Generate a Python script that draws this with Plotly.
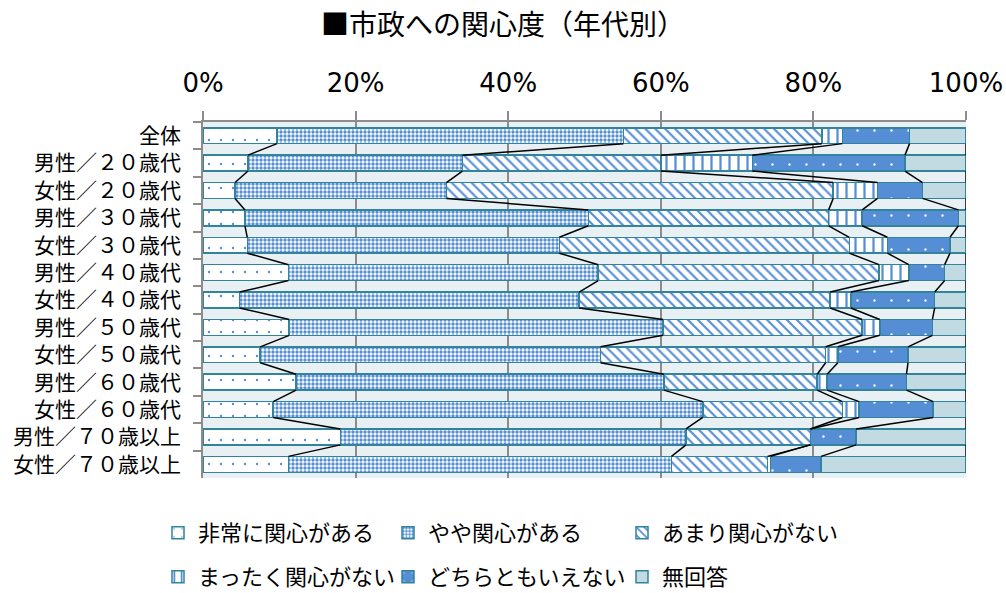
import numpy as np
import plotly.graph_objects as go

categories = ["全体", "男性／２０歳代", "女性／２０歳代", "男性／３０歳代", "女性／３０歳代",
              "男性／４０歳代", "女性／４０歳代", "男性／５０歳代", "女性／５０歳代",
              "男性／６０歳代", "女性／６０歳代", "男性／７０歳以上", "女性／７０歳以上"]

very_interested = [9.7, 5.9, 4.2, 5.5, 5.8, 11.2, 4.8, 11.3, 7.5, 12.2, 9.2, 18.0, 11.2]
somewhat_interested = [45.4, 28.1, 27.7, 45.0, 40.9, 40.6, 44.5, 49.0, 44.6, 48.2, 56.3, 45.3, 50.2]
not_very_interested = [26.0, 26.0, 50.7, 31.5, 38.0, 36.8, 32.9, 26.1, 29.5, 20.1, 18.3, 16.3, 12.6]
not_interested = [2.7, 12.0, 5.8, 4.4, 5.0, 3.9, 2.7, 2.3, 1.6, 1.3, 2.2, 0.0, 0.4]
neither = [8.8, 20.0, 5.9, 12.6, 8.2, 4.7, 11.0, 6.9, 9.2, 10.4, 9.7, 6.0, 6.6]
no_answer = [7.4, 8.0, 5.7, 1.0, 2.1, 2.8, 4.1, 4.4, 7.6, 7.8, 4.3, 14.4, 19.0]

series_names = ["非常に関心がある", "やや関心がある", "あまり関心がない",
                "まったく関心がない", "どちらともいえない", "無回答"]
series_values = [very_interested, somewhat_interested, not_very_interested,
                 not_interested, neither, no_answer]
tick_values = [0, 20, 40, 60, 80, 100]
tick_labels = ["0%", "20%", "40%", "60%", "80%", "100%"]

BLUE = "#558ED5"
OUTLINE = "#31849B"
JP = "Noto Sans CJK JP"

patterns = [
    dict(shape=".", fgcolor=BLUE, bgcolor="white", size=12, solidity=0.03, fgopacity=1),
    dict(shape=".", fgcolor=BLUE, bgcolor="white", size=4, solidity=0.55, fgopacity=1),
    dict(shape="\\", fgcolor=BLUE, bgcolor="white", size=7, solidity=0.3, fgopacity=1),
    dict(shape="|", fgcolor=BLUE, bgcolor="white", size=9, solidity=0.25, fgopacity=1),
    dict(shape=".", fgcolor="white", bgcolor=BLUE, size=17, solidity=0.015, fgopacity=1),
    dict(shape=""),
]
base_colors = ["white", "white", "white", "white", BLUE, "#C2DBE3"]

# one legend box per entry, laid out in a 3 x 2 grid like the original
legend_ids = ["legend", "legend2", "legend3", "legend4", "legend5", "legend6"]
legend_cols = [158, 388, 622, 158, 388, 622]
legend_rows = [533, 533, 533, 577, 577, 577]

BARGAP = 0.42
fig = go.Figure()
for name, vals, pat, col, lg in zip(series_names, series_values, patterns, base_colors, legend_ids):
    fig.add_trace(go.Bar(
        y=categories, x=vals, orientation="h", name=name,
        marker=dict(color=col, pattern=pat, line=dict(color=OUTLINE, width=1.5)),
        legend=lg,
    ))

# series lines connecting the segment ends of consecutive bars
cum = np.cumsum(np.array(series_values, dtype=float), axis=0)
half = (1 - BARGAP) / 2
n = len(categories)
for k in range(cum.shape[0]):
    xs, ys = [], []
    for i in range(n - 1):
        xs += [cum[k, i], cum[k, i + 1], None]
        ys += [i + half, i + 1 - half, None]
    fig.add_trace(go.Scatter(x=xs, y=ys, mode="lines", yaxis="y2",
                             line=dict(color="black", width=1.5),
                             showlegend=False, hoverinfo="skip"))

legend_layout = {}
for lg, lx, ly in zip(legend_ids, legend_cols, legend_rows):
    legend_layout[lg] = dict(orientation="h", xref="container", xanchor="left",
                             yref="container", yanchor="middle",
                             x=lx / 1006, y=1 - ly / 593,
                             font=dict(family=JP, size=22),
                             bgcolor="rgba(0,0,0,0)")

fig.update_layout(
    width=1006, height=593,
    barmode="stack", bargap=BARGAP,
    plot_bgcolor="#E8F0F3", paper_bgcolor="white",
    margin=dict(l=203, r=40, t=122, b=115),
    font=dict(family=JP, color="#000000"),
    title=dict(text="■市政への関心度（年代別）", x=0.5, xref="container", xanchor="center",
               y=1 - 25 / 593, yref="container", yanchor="middle",
               font=dict(family=JP, size=28, color="black")),
    xaxis=dict(range=[0, 100], side="top", tickmode="array", tickvals=tick_values,
               ticktext=tick_labels, automargin=False,
               showgrid=True, gridcolor="#8C8C8C", gridwidth=1.5,
               ticks="outside", ticklen=9, tickcolor="#8C8C8C", tickwidth=1.5,
               showline=True, linecolor="#8C8C8C", linewidth=1.5,
               ticklabelstandoff=9,
               tickfont=dict(family="Verdana, DejaVu Sans", size=26), zeroline=False),
    yaxis=dict(type="category", range=[n - 0.5, -0.5], tickson="boundaries",
               ticks="outside", ticklen=8, tickcolor="#8C8C8C", tickwidth=1.5,
               showline=True, linecolor="#8C8C8C", linewidth=1.5, showgrid=False,
               ticklabelstandoff=16, automargin=False,
               tickfont=dict(family=JP, size=21)),
    yaxis2=dict(range=[n - 0.5, -0.5], overlaying="y", visible=False),
    **legend_layout,
)

fig.write_html("out.html")
